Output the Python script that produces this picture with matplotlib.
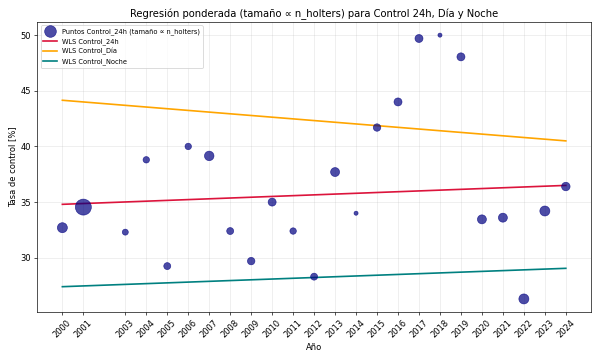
import numpy as np
import matplotlib
matplotlib.use("Agg")
import matplotlib.pyplot as plt

# datos
anios = [2000, 2001, 2003, 2004, 2005, 2006, 2007, 2008, 2009, 2010, 2011, 2012,
         2013, 2014, 2015, 2016, 2017, 2018, 2019, 2020, 2021, 2022, 2023, 2024]
control_24h = [32.7, 34.55, 32.3, 38.8, 29.25, 40.0, 39.15, 32.4, 29.7, 35.0, 32.4, 28.3,
               37.7, 34.0, 41.7, 44.0, 49.7, 50.0, 48.05, 33.45, 33.6, 26.3, 34.2, 36.4]
n_holters = [72, 184, 26, 30, 35, 30, 65, 35, 40, 46, 30, 35,
             58, 12, 40, 46, 46, 12, 46, 58, 58, 72, 72, 52]

# rectas WLS (valor en el primer y ultimo anio)
fit_anios = [2000, 2024]
wls_24h = [34.8, 36.5]
wls_dia = [44.15, 40.5]
wls_noche = [27.4, 29.05]

fig = plt.figure(figsize=(10, 6), dpi=60)
ax = fig.add_subplot(1, 1, 1)

sizes = np.array(n_holters) * 2
ax.scatter(anios, control_24h, s=sizes, color='navy', alpha=0.7,
           edgecolors='navy', linewidths=0.8,
           label='Puntos Control_24h (tamaño ∝ n_holters)', zorder=3)
ax.plot(fit_anios, wls_24h, color='crimson', linewidth=2, label='WLS Control_24h')
ax.plot(fit_anios, wls_dia, color='orange', linewidth=2, label='WLS Control_Día')
ax.plot(fit_anios, wls_noche, color='teal', linewidth=2, label='WLS Control_Noche')

ax.set_xticks(anios)
ax.set_xticklabels([str(a) for a in anios], rotation=45)
ax.set_xlabel('Año')
ax.set_ylabel('Tasa de control [%]')
ax.set_title('Regresión ponderada (tamaño ∝ n_holters) para Control 24h, Día y Noche', fontsize=12)
ax.grid(True, alpha=0.3)
ax.legend(loc='upper left', fontsize=8)

fig.subplots_adjust(left=0.062, right=0.985, top=0.939, bottom=0.133)
fig.savefig('out.png', dpi=60)
